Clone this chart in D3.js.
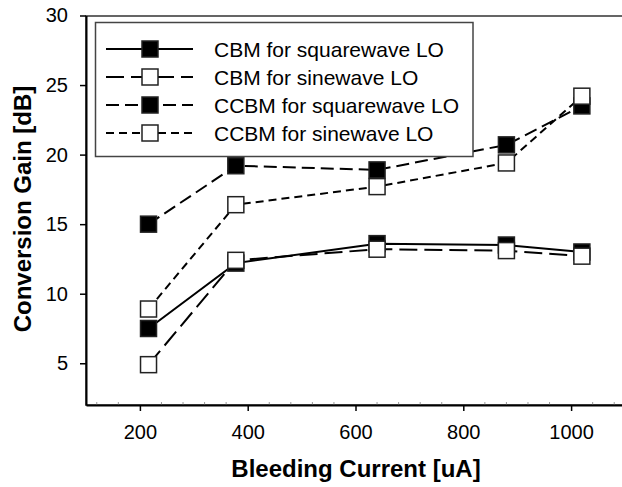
<!DOCTYPE html>
<html>
<head>
<meta charset="utf-8">
<script src="https://cdn.jsdelivr.net/npm/d3@7/dist/d3.min.js"></script>
<style>
  html, body { margin: 0; padding: 0; background: #fff; }
  svg { display: block; }
</style>
</head>
<body>
<svg id="chart" width="622" height="487"></svg>
<script>
// ---- Data ----
const current = [216, 378, 640, 880, 1020];
const cbmSquare = [7.5, 12.2, 13.6, 13.5, 13.0];
const cbmSine = [4.9, 12.4, 13.2, 13.1, 12.7];
const ccbmSquare = [15.0, 19.2, 18.9, 20.7, 23.5];
const ccbmSine = [8.9, 16.4, 17.7, 19.4, 24.2];
const seriesNames = ["CBM for squarewave LO", "CBM for sinewave LO", "CCBM for squarewave LO", "CCBM for sinewave LO"];
const xTicks = [200, 400, 600, 800, 1000];
const yTicks = [5, 10, 15, 20, 25, 30];

(function () {
const FONT = "'Liberation Sans', Arial, Helvetica, sans-serif";
const svg = d3.select("#chart");

const pL = 86, pR = 625, pT = 16, pB = 405;
const x = d3.scaleLinear().domain([100, 1100]).range([pL, pR]);
const y = d3.scaleLinear().domain([2, 30]).range([pB, 15.5]);

const styles = [
  { fill: "#000", dash: null },
  { fill: "#fff", dash: "18,7" },
  { fill: "#000", dash: "13,6" },
  { fill: "#fff", dash: "8,5" }
];
const seriesValues = [cbmSquare, cbmSine, ccbmSquare, ccbmSine];
const series = seriesNames.map((name, i) => ({
  name, style: styles[i],
  points: current.map((c, j) => ({ x: c, y: seriesValues[i][j] }))
}));

// frame (top / right)
svg.append("rect")
  .attr("x", pL).attr("y", pT)
  .attr("width", pR - pL).attr("height", pB - pT)
  .attr("fill", "none").attr("stroke", "#333").attr("stroke-width", 1.5);

// minor ticks on bottom axis
const minor = d3.range(120, 1100, 40).filter(v => v % 200 !== 0);
svg.append("g").selectAll("line").data(minor).join("line")
  .attr("x1", d => x(d)).attr("x2", d => x(d))
  .attr("y1", pB).attr("y2", pB - 3)
  .attr("stroke", "#999").attr("stroke-width", 1);

// axes
const gx = svg.append("g").attr("transform", `translate(0,${pB})`)
  .call(d3.axisBottom(x).tickValues(xTicks).tickFormat(d3.format("d"))
    .tickSize(6).tickSizeOuter(0).tickPadding(14));
const gy = svg.append("g").attr("transform", `translate(${pL},0)`)
  .call(d3.axisLeft(y).tickValues(yTicks).tickFormat(d3.format("d"))
    .tickSize(6).tickSizeOuter(0).tickPadding(12));
[gx, gy].forEach(g => {
  g.attr("font-family", FONT).attr("font-size", 20);
  g.select(".domain").attr("stroke", "#000").attr("stroke-width", 2);
  g.selectAll(".tick line").attr("stroke", "#000").attr("stroke-width", 1.5);
  g.selectAll(".tick text").attr("fill", "#000");
});

// axis titles
svg.append("text")
  .attr("x", 356).attr("y", 477)
  .attr("text-anchor", "middle")
  .attr("font-family", FONT).attr("font-size", 24).attr("font-weight", "bold")
  .text("Bleeding Current [uA]");
svg.append("text")
  .attr("transform", "translate(31,209) rotate(-90)")
  .attr("text-anchor", "middle")
  .attr("font-family", FONT).attr("font-size", 24).attr("font-weight", "bold")
  .text("Conversion Gain [dB]");

// lines
const line = d3.line().x(d => x(d.x)).y(d => y(d.y));
svg.append("g").selectAll("path").data(series).join("path")
  .attr("d", d => line(d.points))
  .attr("fill", "none").attr("stroke", "#000").attr("stroke-width", 2)
  .attr("stroke-dasharray", d => d.style.dash);

// markers
const MS = 16;
series.forEach(s => {
  svg.append("g").selectAll("rect").data(s.points).join("rect")
    .attr("x", d => x(d.x) - MS / 2).attr("y", d => y(d.y) - MS / 2)
    .attr("width", MS).attr("height", MS)
    .attr("fill", s.style.fill).attr("stroke", "#222").attr("stroke-width", 1.5);
});

// legend
const lg = svg.append("g");
lg.append("rect")
  .attr("x", 95.5).attr("y", 22.5).attr("width", 377.5).attr("height", 134)
  .attr("fill", "#fff").attr("stroke", "#444").attr("stroke-width", 1.5);
series.forEach((s, i) => {
  const yy = 49 + i * 28;
  lg.append("line")
    .attr("x1", 106).attr("x2", 193).attr("y1", yy).attr("y2", yy)
    .attr("stroke", "#000").attr("stroke-width", 2)
    .attr("stroke-dasharray", s.style.dash);
  lg.append("rect")
    .attr("x", 150 - MS / 2).attr("y", yy - MS / 2).attr("width", MS).attr("height", MS)
    .attr("fill", s.style.fill).attr("stroke", "#222").attr("stroke-width", 1.5);
  lg.append("text")
    .attr("x", 214).attr("y", yy + 7.5)
    .attr("font-family", FONT).attr("font-size", 21).attr("fill", "#000")
    .text(s.name);
});
})();
</script>
</body>
</html>
